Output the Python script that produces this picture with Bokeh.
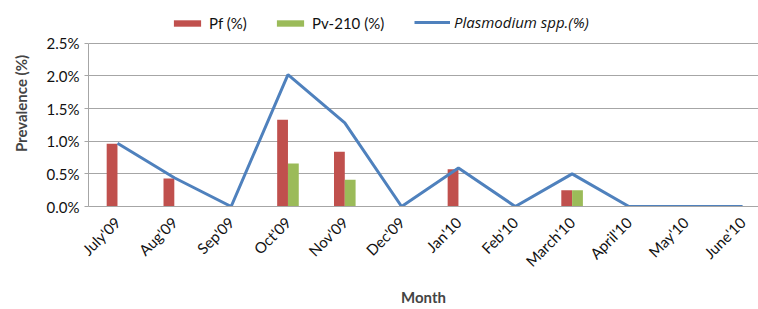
from bokeh.plotting import figure
from bokeh.models import ColumnDataSource, Legend, LegendItem, FixedTicker, Range1d
from bokeh.transform import dodge
from bokeh.embed import file_html
from bokeh.resources import INLINE
import math

months = ["July'09", "Aug'09", "Sep'09", "Oct'09", "Nov'09", "Dec'09",
          "Jan'10", "Feb'10", "March'10", "April'10", "May'10", "June'10"]
pf = [0.96, 0.43, 0.0, 1.33, 0.84, 0.0, 0.57, 0.0, 0.25, 0.0, 0.0, 0.0]
pv = [0.0, 0.0, 0.0, 0.66, 0.41, 0.0, 0.0, 0.0, 0.25, 0.0, 0.0, 0.0]
spp = [0.97, 0.44, 0.0, 2.02, 1.28, 0.0, 0.59, 0.0, 0.50, 0.0, 0.0, 0.0]
yticks = [0.0, 0.5, 1.0, 1.5, 2.0, 2.5]

RED = "#C0504D"
GREEN = "#9BBB59"
BLUE = "#4F81BD"
GRID = "#A6A6A6"
FONT = "Lato"
TXT = "#111111"

idx = list(range(len(months)))
src = ColumnDataSource(dict(x=idx, pf=pf, pv=pv, spp=spp))

# frame spans the full top of the figure so the legend (drawn inside the frame) is not clipped
p = figure(width=758, height=309, output_backend="svg", toolbar_location=None,
           x_range=Range1d(-0.51, 11.28), y_range=Range1d(0, 3.155),
           min_border_left=88, min_border_right=0, min_border_top=0, min_border_bottom=100)
p.outline_line_color = None

r_pf = p.vbar(x=dodge("x", -0.095), top="pf", width=0.19, source=src, fill_color=RED, line_color=None)
r_pv = p.vbar(x=dodge("x", 0.095), top="pv", width=0.19, source=src, fill_color=GREEN, line_color=None)
r_sp = p.line(x="x", y="spp", source=src, line_color=BLUE, line_width=3)

# axes
p.xaxis.ticker = FixedTicker(ticks=idx)
p.xaxis.major_label_overrides = {i: m for i, m in enumerate(months)}
p.xaxis.major_label_orientation = math.pi / 4
p.xaxis.major_tick_line_color = None
p.xaxis.minor_tick_line_color = None
p.xaxis.axis_line_color = GRID
p.xaxis.major_label_text_font = FONT
p.xaxis.major_label_text_font_size = "15px"
p.xaxis.major_label_text_color = TXT
p.xaxis.major_label_standoff = 7
p.xaxis.axis_label = "Month"
p.xaxis.axis_label_text_font = FONT
p.xaxis.axis_label_text_font_style = "bold"
p.xaxis.axis_label_text_font_size = "15px"
p.xaxis.axis_label_standoff = 9

p.yaxis.bounds = (0, 2.5)
p.yaxis.ticker = FixedTicker(ticks=yticks)
p.yaxis.major_label_overrides = {t: f"{t:.1f}%" for t in yticks}
p.yaxis.minor_tick_line_color = None
p.yaxis.major_tick_in = 0
p.yaxis.major_tick_out = 4
p.yaxis.major_tick_line_color = GRID
p.yaxis.axis_line_color = GRID
p.yaxis.major_label_text_font = FONT
p.yaxis.major_label_text_font_size = "15px"
p.yaxis.major_label_text_color = TXT
p.yaxis.major_label_standoff = 5
p.yaxis.axis_label = "Prevalence (%)"
p.yaxis.axis_label_text_font = FONT
p.yaxis.axis_label_text_font_style = "bold"
p.yaxis.axis_label_text_font_size = "15px"
p.yaxis.axis_label_standoff = 14

p.xgrid.grid_line_color = None
p.ygrid.grid_line_color = GRID
p.ygrid.ticker = FixedTicker(ticks=yticks)

leg1 = Legend(items=[LegendItem(label="Pf (%)", renderers=[r_pf]),
                     LegendItem(label="Pv-210 (%)", renderers=[r_pv])],
              orientation="horizontal", location=(82, 174), padding=0, margin=0,
              spacing=26, glyph_width=34, glyph_height=8, label_height=16,
              label_standoff=5, border_line_color=None, background_fill_alpha=0,
              label_text_font=FONT, label_text_font_size="15px", label_text_color=TXT)
leg2 = Legend(items=[LegendItem(label="Plasmodium spp.(%)", renderers=[r_sp])],
              orientation="horizontal", location=(326, 174), padding=0, margin=0,
              glyph_width=36, glyph_height=8, label_height=16,
              label_standoff=4, border_line_color=None, background_fill_alpha=0,
              label_text_font="Open Sans", label_text_font_size="15px", label_text_font_style="italic",
              label_text_color=TXT)
p.add_layout(leg1, "center")
p.add_layout(leg2, "center")

open("out.html", "w").write(file_html(p, INLINE))
